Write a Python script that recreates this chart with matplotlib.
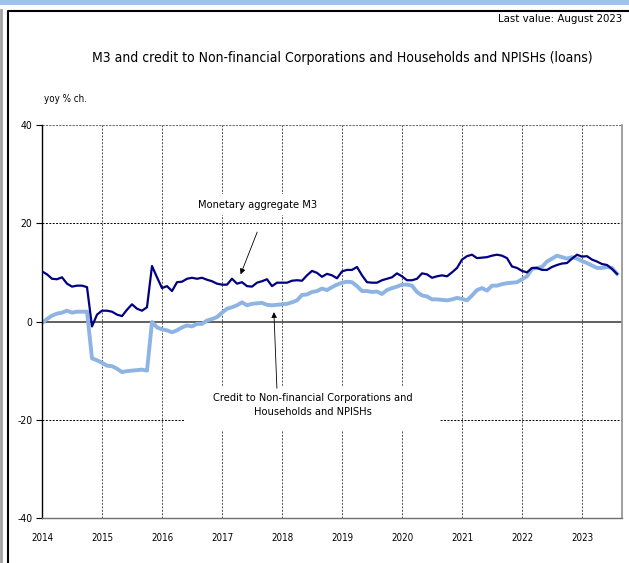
import numpy as np
import pandas as pd
import matplotlib
matplotlib.use("Agg")
import matplotlib.pyplot as plt
from matplotlib.patches import Rectangle

plt.rcParams['font.family'] = ['DejaVu Sans']
plt.rcParams['font.stretch'] = 'condensed'

# Данные: помесячно, январь 2014 - август 2023
dates = pd.date_range('2014-01-01', periods=116, freq='MS')

m3 = [
    10.2, 9.6, 8.7, 8.6, 9.0, 7.7, 7.1, 7.3, 7.3, 7.0, -1.0, 1.4,      # 2014
    2.2, 2.2, 2.0, 1.4, 1.1, 2.4, 3.5, 2.6, 2.2, 2.9, 11.3, 9.0,       # 2015
    6.8, 7.2, 6.2, 8.0, 8.1, 8.7, 8.9, 8.7, 8.9, 8.5, 8.2, 7.7,        # 2016
    7.5, 7.5, 8.7, 7.7, 8.0, 7.2, 7.1, 7.9, 8.2, 8.6, 7.2, 7.9,        # 2017
    7.9, 7.9, 8.3, 8.4, 8.3, 9.4, 10.3, 9.9, 9.1, 9.7, 9.4, 8.8,       # 2018
    10.2, 10.5, 10.5, 11.1, 9.4, 8.0, 7.9, 7.9, 8.4, 8.7, 9.0, 9.8,    # 2019
    9.2, 8.4, 8.4, 8.7, 9.8, 9.6, 8.9, 9.2, 9.4, 9.2, 10.0, 10.9,      # 2020
    12.6, 13.3, 13.6, 12.9, 13.0, 13.1, 13.4, 13.6, 13.4, 12.9, 11.2, 10.9,  # 2021
    10.3, 10.0, 10.9, 10.9, 10.5, 10.5, 11.1, 11.5, 11.8, 11.9, 12.8, 13.6,  # 2022
    13.2, 13.3, 12.6, 12.2, 11.7, 11.5, 10.7, 9.7,                     # 2023
]

credit = [
    -0.3, 0.5, 1.2, 1.6, 1.8, 2.2, 1.8, 2.0, 2.0, 2.0, -7.5, -7.9,
    -8.4, -9.0, -9.1, -9.6, -10.3, -10.1, -10.0, -9.9, -9.8, -10.0, -0.1, -1.2,
    -1.6, -1.8, -2.2, -1.8, -1.2, -0.8, -1.0, -0.5, -0.5, 0.2, 0.5, 0.9,
    1.8, 2.6, 2.9, 3.3, 3.9, 3.3, 3.6, 3.7, 3.8, 3.4, 3.3, 3.4,
    3.5, 3.6, 3.9, 4.3, 5.4, 5.5, 6.0, 6.2, 6.7, 6.4, 7.0, 7.5,
    7.9, 8.1, 8.0, 7.2, 6.2, 6.2, 6.0, 6.1, 5.6, 6.4, 6.8, 7.1,
    7.5, 7.5, 7.3, 6.0, 5.3, 5.1, 4.5, 4.5, 4.4, 4.3, 4.5, 4.8,
    4.6, 4.3, 5.3, 6.4, 6.8, 6.3, 7.3, 7.3, 7.6, 7.8, 7.9, 8.0,
    8.6, 9.2, 10.7, 10.9, 11.1, 12.2, 12.8, 13.4, 13.1, 12.8, 13.1, 12.8,
    12.3, 11.9, 11.4, 10.9, 10.9, 11.1, 10.9, 9.7,
]

year_ticks = list(range(2014, 2024))
y_ticks = [-40, -20, 0, 20, 40]

x = dates.year + (dates.month - 1) / 12.0

fig = plt.figure(figsize=(6.29, 5.63), dpi=100)

# Рамка и полоса сверху
fig.patches.append(Rectangle((0, 1 - 5 / 563), 1, 5 / 563, transform=fig.transFigure,
                             facecolor='#9DC3E6', edgecolor='none'))
fig.add_artist(plt.Line2D([8 / 629, 8 / 629, 1], [0, 1 - 11 / 563, 1 - 11 / 563],
                          transform=fig.transFigure, color='black', lw=1.5))
fig.add_artist(plt.Line2D([1 / 629, 1 / 629], [0, 1 - 10 / 563],
                          transform=fig.transFigure, color='#A0A0A0', lw=2))

ax = fig.add_axes([42 / 629, 45 / 563, 580 / 629, 393 / 563])

# Сетка
for yr in year_ticks[1:]:
    ax.axvline(yr, color='#505050', lw=0.7, ls=(0, (2, 1.5)), zorder=1)
for v in [20, -20]:
    ax.axhline(v, color='black', lw=0.7, ls=(0, (2, 1.5)), zorder=1)
ax.axhline(40, color='#707070', lw=0.8, ls=(0, (2, 1)), zorder=1)
ax.axhline(0, color='#606060', lw=1.4, zorder=1)

# Белый фон под подписью кредита
ax.add_patch(Rectangle((2016.38, -22.2), 4.25, 8.8, facecolor='white',
                       edgecolor='none', zorder=1.5))

ax.plot(x, credit, color='#8DB4E2', lw=2.8, zorder=2, solid_joinstyle='round')
ax.plot(x, m3, color='#000080', lw=1.6, zorder=3, solid_joinstyle='round')

# Подписи и стрелки
ax.text(2017.59, 23.8, 'Monetary aggregate M3', ha='center', va='center', fontsize=7.9,
        bbox=dict(facecolor='white', edgecolor='none', pad=4), zorder=4)
ax.annotate('', xy=(2017.31, 9.6), xytext=(2017.587, 18.2),
            arrowprops=dict(arrowstyle='-|>', color='black', lw=0.6,
                            mutation_scale=8, shrinkA=0, shrinkB=0),
            zorder=4)
ax.annotate('', xy=(2017.865, 1.9), xytext=(2017.915, -13.6),
            arrowprops=dict(arrowstyle='-|>', color='black', lw=0.6,
                            mutation_scale=8, shrinkA=0, shrinkB=0),
            zorder=4)
ax.text(2018.52, -17.0, 'Credit to Non-financial Corporations and\nHouseholds and NPISHs',
        ha='center', va='center', fontsize=7.9, linespacing=1.45, zorder=4)

ax.set_xlim(2014, 2023 + 8 / 12)
ax.set_ylim(-40, 40)
ax.set_xticks(year_ticks)
ax.set_xticklabels([str(y) for y in year_ticks], fontsize=7)
ax.set_yticks(y_ticks)
ax.set_yticklabels([str(v) for v in y_ticks], fontsize=7.5)
ax.tick_params(axis='x', length=0, pad=11)
ax.tick_params(axis='y', direction='out', length=4, width=0.8, pad=3)

ax.spines['top'].set_visible(False)
ax.spines['left'].set_color('black')
ax.spines['left'].set_linewidth(1)
ax.spines['right'].set_color('#909090')
ax.spines['right'].set_linewidth(1.2)
ax.spines['bottom'].set_color('#707070')
ax.spines['bottom'].set_linewidth(1)

fig.text(622 / 629, 1 - 19 / 563, 'Last value: August 2023', ha='right', va='center', fontsize=8.2)
fig.text(342 / 629, 1 - 58 / 563,
         'M3 and credit to Non-financial Corporations and Households and NPISHs (loans)',
         ha='center', va='center', fontsize=10)
fig.text(44 / 629, 1 - 99 / 563, 'yoy % ch.', ha='left', va='center', fontsize=7)

fig.savefig('out.png', dpi=100)
